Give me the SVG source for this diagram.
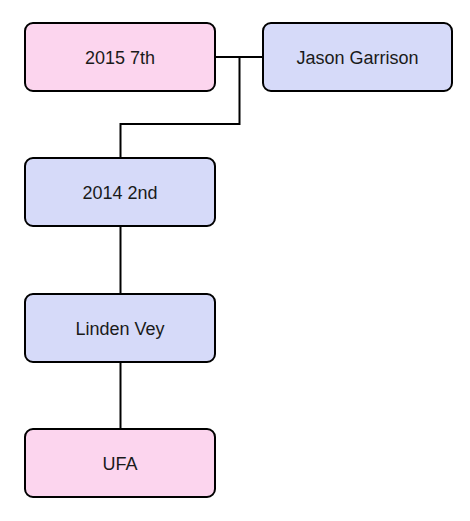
<svg xmlns="http://www.w3.org/2000/svg" width="470" height="521" viewBox="0 0 470 521">
<style>
.box{stroke:#000;stroke-width:2}
.pink{fill:#fcd5ee}
.blue{fill:#d6daf9}
.lbl{font-family:"Liberation Sans",Arial,sans-serif;font-size:18px;fill:#1a1a1a;text-anchor:middle;dominant-baseline:central}
.c{fill:none;stroke:#000;stroke-width:2}
</style>
<rect width="470" height="521" fill="#fff"/>
<g id="connectors">
<path class="c" d="M215 57 H263"/>
<path class="c" d="M239.5 57 V124 H120.5 V158"/>
<path class="c" d="M120.5 226 V294"/>
<path class="c" d="M120.5 362 V429"/>
</g>
<g id="n2015"><rect class="box pink" x="25" y="23" width="190" height="68" rx="8"/><text class="lbl" x="120" y="58">2015 7th</text></g>
<g id="njason"><rect class="box blue" x="263" y="23" width="189" height="68" rx="8"/><text class="lbl" x="357.5" y="58">Jason Garrison</text></g>
<g id="n2014"><rect class="box blue" x="25" y="158" width="190" height="68" rx="8"/><text class="lbl" x="120" y="193">2014 2nd</text></g>
<g id="nlinden"><rect class="box blue" x="25" y="294" width="190" height="68" rx="8"/><text class="lbl" x="120" y="329">Linden Vey</text></g>
<g id="nufa"><rect class="box pink" x="25" y="429" width="190" height="68" rx="8"/><text class="lbl" x="120" y="464">UFA</text></g>
</svg>
